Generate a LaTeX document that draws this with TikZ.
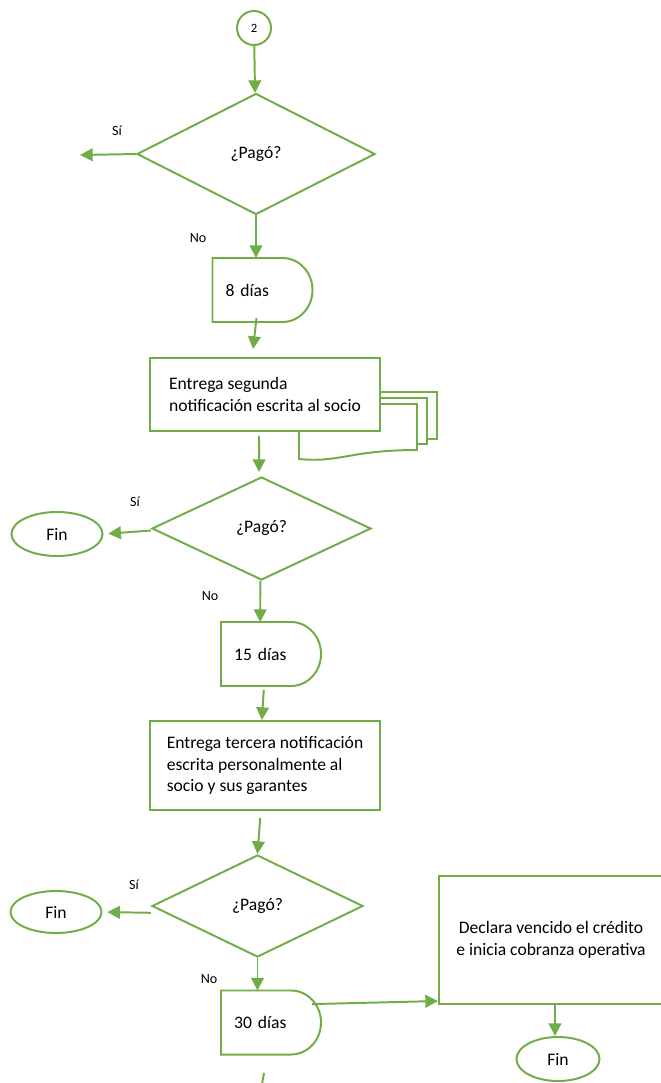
\documentclass[tikz,border=0pt]{standalone}
\usepackage{fontspec}
\setmainfont{Carlito}
\usetikzlibrary{shapes.geometric,arrows.meta}
\definecolor{leaf}{RGB}{112,173,71}
\begin{document}
\begin{tikzpicture}[x=0.025cm,y=-0.025cm,
    every node/.style={font=\fontsize{12.5}{15.5}\selectfont},
    line/.style={draw=leaf,line width=1.4pt},
    ask/.style={line,diamond,inner sep=0pt},
    endbox/.style={line,ellipse,inner sep=0pt},
    wait/.style={text width=1.84cm,align=left,inner xsep=0.33cm,minimum height=1.6cm,outer sep=0pt},
    task/.style={line,rectangle,fill=white},
    tag/.style={font=\fontsize{10}{12}\selectfont}]
  \useasboundingbox (0,0) rectangle (660,1083);
  \node[line,circle,minimum size=0.85cm,inner sep=0pt,font=\fontsize{9}{11}\selectfont] (c2) at (254,28) {2};
  \node[ask,minimum width=5.95cm,minimum height=3.025cm] (q1) at (256,154) {¿Pagó?};
  \node[wait] (d1) at (262.5,290) {8 días};
  \node[task,minimum width=5.75cm,minimum height=1.825cm,align=left] (s1) at (265,394.5)
    {Entrega segunda\\notificación escrita al socio};
  \node[ask,minimum width=5.475cm,minimum height=2.575cm] (q2) at (261.5,528.5) {¿Pagó?};
  \node[endbox,minimum width=2.275cm,minimum height=1.1cm] (f1) at (57,534) {Fin};
  \node[wait] (d2) at (271,654) {15 días};
  \node[task,minimum width=5.75cm,minimum height=2.225cm,align=left] (s2) at (265,765.5)
    {Entrega tercera notificación\\escrita personalmente al\\socio y sus garantes};
  \node[ask,minimum width=5.275cm,minimum height=2.55cm] (q3) at (257.5,906) {¿Pagó?};
  \node[endbox,minimum width=2.275cm,minimum height=1.05cm] (f2) at (56,912) {Fin};
  \node[wait] (d3) at (271,1022.5) {30 días};
  \node[task,minimum width=5.6cm,minimum height=3.2cm,align=center] (r3) at (551,940)
    {Declara vencido el crédito\\e inicia cobranza operativa};
  \node[endbox,minimum width=2.075cm,minimum height=1.1cm] (f3) at (558,1059) {Fin};
  \coordinate (y1) at (80,155);
  \coordinate (t1) at (264,1073);
  \coordinate (t2) at (262,1084);
  % delay outlines
  \foreach \d in {d1,d2,d3}
    \draw[line] (\d.north west) -- ([xshift=-0.75cm]\d.north east)
      arc[start angle=90,end angle=-90,x radius=0.75cm,y radius=0.8cm] -- (\d.south west) -- cycle;
  % stacked sheets behind s1
  \draw[line] (380,392) -- (437,392) -- (437,439) -- (427,439);
  \draw[line] (380,398) -- (427,398) -- (427,444) -- (417,444);
  \draw[line] (380,404) -- (417,404) -- (417,450) .. controls (350,450) and (340,463) .. (299,459) -- (299,431);
  % yes / no marks
  \node[tag] (y1l) at (117,131) {Sí};
  \node[tag] (n1l) at (198,238) {No};
  \node[tag] (y2l) at (135,502) {Sí};
  \node[tag] (n2l) at (210,596) {No};
  \node[tag] (y3l) at (134,885) {Sí};
  \node[tag] (n3l) at (209,979) {No};
  \begin{scope}[line,-{Triangle[length=9pt,width=9pt]}]
    \draw (c2) -- (q1);
    \draw (q1.west) -- (y1);
    \draw (q1.south) -- (q1.south |- d1.north);
    \draw ([xshift=-0.15cm,yshift=0.1cm]d1.south) -- ([xshift=-0.3cm,yshift=0.2cm]s1.north);
    \draw ([xshift=-0.15cm,yshift=-0.1cm]s1.south) -- ([xshift=-0.06cm,yshift=0.1cm]q2.north);
    \draw[shorten >=0.12cm] ([yshift=-0.05cm]q2.west) -- (f1.east);
    \draw ([xshift=-0.03cm]q2.south) -- ([xshift=-0.27cm]d2.north);
    \draw ([xshift=-0.18cm,yshift=-0.1cm]d2.south) -- ([xshift=-0.08cm]s2.north);
    \draw ([xshift=-0.12cm,yshift=-0.18cm]s2.south) -- (q3.north);
    \draw[shorten >=0.12cm] ([yshift=-0.17cm]q3.west) -- (f2.east);
    \draw (q3.south) -- (q3.south |- d3.north);
    \draw ([xshift=-0.22cm,yshift=0.46cm]d3.east) -- ([yshift=0.1cm]r3.south west);
    \draw ([xshift=0.1cm]r3.south) -- ([xshift=-0.075cm]f3.north);
    \draw[-] (t1) -- (t2);
  \end{scope}
\end{tikzpicture}
\end{document}
